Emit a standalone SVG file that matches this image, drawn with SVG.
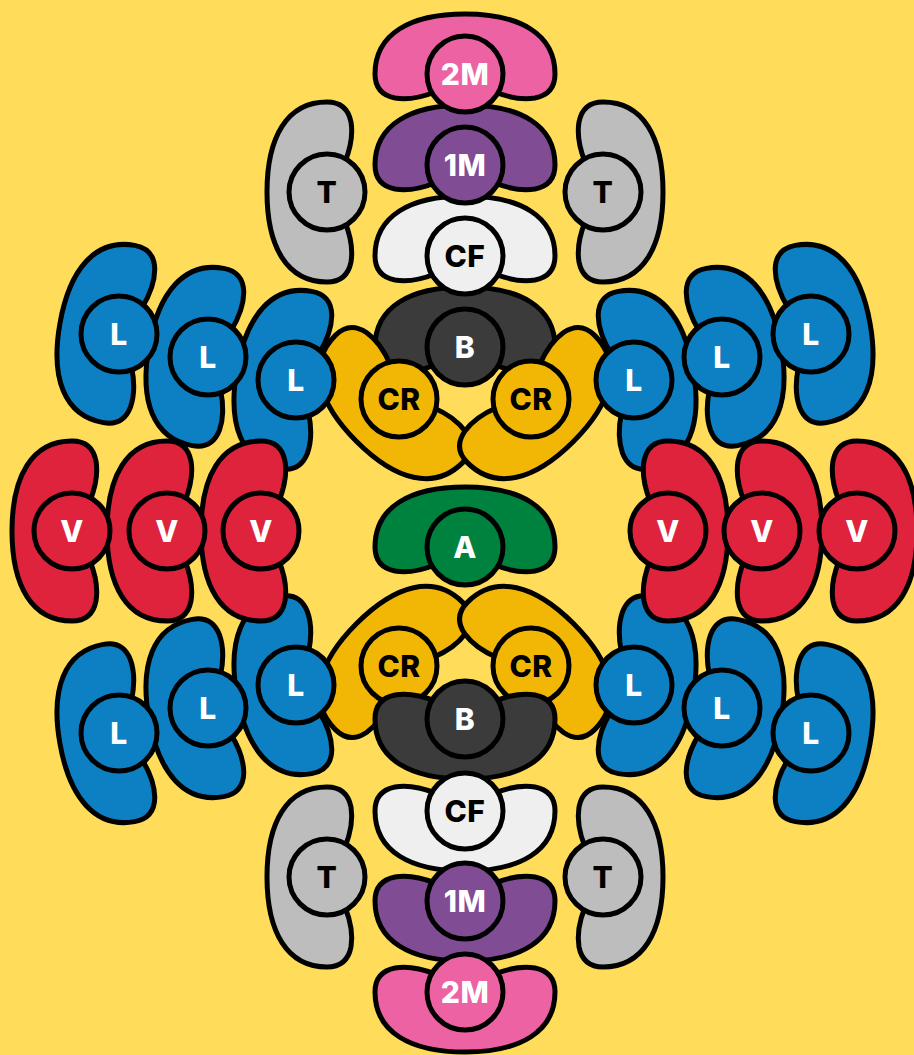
<svg xmlns="http://www.w3.org/2000/svg" xmlns:xlink="http://www.w3.org/1999/xlink" width="914" height="1055" viewBox="0 0 914 1055">
<style>
.bean,.dot{stroke:#000;stroke-width:5;stroke-linejoin:round}
.m2{fill:#EC62A2}.m1{fill:#804C93}.cf{fill:#EFEFEF}.t{fill:#BDBDBD}.b{fill:#3B3B3B}
.cr{fill:#F2B705}.l{fill:#0D80C3}.v{fill:#E0233D}.a{fill:#00823F}
text{font-family:Inter,"Liberation Sans",sans-serif;font-weight:800;font-size:30px;letter-spacing:0.5px;text-anchor:middle}
.w{fill:#fff}.k{fill:#000}
</style>
<defs>
<path id="bean" d="M -30,18 C -45,24 -58,26 -70,24 C -85,21 -90,12 -90,0 C -90,-40 -55,-60 0,-60 C 55,-60 90,-40 90,0 C 90,12 85,21 70,24 C 58,26 45,24 30,18 C 15,13 -15,13 -30,18 Z"/>
</defs>
<rect width="914" height="1055" fill="#FFDD5B"/>
<g id="nodes">
<g id="t-top-left"><use href="#bean" class="bean t" transform="translate(327,192) rotate(-90)"/><circle class="dot t" cx="327" cy="192" r="38"/><text class="k" x="327" y="203">T</text></g>
<g id="t-top-right"><use href="#bean" class="bean t" transform="translate(603,192) rotate(90)"/><circle class="dot t" cx="603" cy="192" r="38"/><text class="k" x="603" y="203">T</text></g>
<g id="b-top"><use href="#bean" class="bean b" transform="translate(465,347)"/><circle class="dot b" cx="465" cy="347" r="38"/><text class="w" x="465" y="358">B</text></g>
<g id="cr-top-left"><use href="#bean" class="bean cr" transform="translate(399,399) rotate(-135)"/><circle class="dot cr" cx="399" cy="399" r="38"/><text class="k" x="399" y="410">CR</text></g>
<g id="cr-top-right"><use href="#bean" class="bean cr" transform="translate(531,399) rotate(135)"/><circle class="dot cr" cx="531" cy="399" r="38"/><text class="k" x="531" y="410">CR</text></g>
<g id="l-top-left-1"><use href="#bean" class="bean l" transform="translate(296,380) rotate(-80)"/><circle class="dot l" cx="296" cy="380" r="38"/><text class="w" x="296" y="391">L</text></g>
<g id="l-top-right-1"><use href="#bean" class="bean l" transform="translate(634,380) rotate(80)"/><circle class="dot l" cx="634" cy="380" r="38"/><text class="w" x="634" y="391">L</text></g>
<g id="l-top-left-2"><use href="#bean" class="bean l" transform="translate(208,357) rotate(-80)"/><circle class="dot l" cx="208" cy="357" r="38"/><text class="w" x="208" y="368">L</text></g>
<g id="l-top-right-2"><use href="#bean" class="bean l" transform="translate(722,357) rotate(80)"/><circle class="dot l" cx="722" cy="357" r="38"/><text class="w" x="722" y="368">L</text></g>
<g id="l-top-left-3"><use href="#bean" class="bean l" transform="translate(119,334) rotate(-80)"/><circle class="dot l" cx="119" cy="334" r="38"/><text class="w" x="119" y="345">L</text></g>
<g id="l-top-right-3"><use href="#bean" class="bean l" transform="translate(811,334) rotate(80)"/><circle class="dot l" cx="811" cy="334" r="38"/><text class="w" x="811" y="345">L</text></g>
<g id="cr-bottom-left"><use href="#bean" class="bean cr" transform="translate(399,666) rotate(-45)"/><circle class="dot cr" cx="399" cy="666" r="38"/><text class="k" x="399" y="677">CR</text></g>
<g id="cr-bottom-right"><use href="#bean" class="bean cr" transform="translate(531,666) rotate(45)"/><circle class="dot cr" cx="531" cy="666" r="38"/><text class="k" x="531" y="677">CR</text></g>
<g id="b-bottom"><use href="#bean" class="bean b" transform="translate(465,719) rotate(180)"/><circle class="dot b" cx="465" cy="719" r="38"/><text class="w" x="465" y="730">B</text></g>
<g id="l-bottom-left-1"><use href="#bean" class="bean l" transform="translate(296,685) rotate(-100)"/><circle class="dot l" cx="296" cy="685" r="38"/><text class="w" x="296" y="696">L</text></g>
<g id="l-bottom-right-1"><use href="#bean" class="bean l" transform="translate(634,685) rotate(100)"/><circle class="dot l" cx="634" cy="685" r="38"/><text class="w" x="634" y="696">L</text></g>
<g id="l-bottom-left-2"><use href="#bean" class="bean l" transform="translate(208,708) rotate(-100)"/><circle class="dot l" cx="208" cy="708" r="38"/><text class="w" x="208" y="719">L</text></g>
<g id="l-bottom-right-2"><use href="#bean" class="bean l" transform="translate(722,708) rotate(100)"/><circle class="dot l" cx="722" cy="708" r="38"/><text class="w" x="722" y="719">L</text></g>
<g id="l-bottom-left-3"><use href="#bean" class="bean l" transform="translate(119,733) rotate(-100)"/><circle class="dot l" cx="119" cy="733" r="38"/><text class="w" x="119" y="744">L</text></g>
<g id="l-bottom-right-3"><use href="#bean" class="bean l" transform="translate(811,733) rotate(100)"/><circle class="dot l" cx="811" cy="733" r="38"/><text class="w" x="811" y="744">L</text></g>
<g id="v-left-1"><use href="#bean" class="bean v" transform="translate(261,531) rotate(-90)"/><circle class="dot v" cx="261" cy="531" r="38"/><text class="w" x="261" y="542">V</text></g>
<g id="v-right-1"><use href="#bean" class="bean v" transform="translate(668,531) rotate(90)"/><circle class="dot v" cx="668" cy="531" r="38"/><text class="w" x="668" y="542">V</text></g>
<g id="v-left-2"><use href="#bean" class="bean v" transform="translate(167,531) rotate(-90)"/><circle class="dot v" cx="167" cy="531" r="38"/><text class="w" x="167" y="542">V</text></g>
<g id="v-right-2"><use href="#bean" class="bean v" transform="translate(762,531) rotate(90)"/><circle class="dot v" cx="762" cy="531" r="38"/><text class="w" x="762" y="542">V</text></g>
<g id="v-left-3"><use href="#bean" class="bean v" transform="translate(72,531) rotate(-90)"/><circle class="dot v" cx="72" cy="531" r="38"/><text class="w" x="72" y="542">V</text></g>
<g id="v-right-3"><use href="#bean" class="bean v" transform="translate(857,531) rotate(90)"/><circle class="dot v" cx="857" cy="531" r="38"/><text class="w" x="857" y="542">V</text></g>
<g id="cf-top"><use href="#bean" class="bean cf" transform="translate(465,256)"/><circle class="dot cf" cx="465" cy="256" r="38"/><text class="k" x="465" y="267">CF</text></g>
<g id="m1-top"><use href="#bean" class="bean m1" transform="translate(465,165)"/><circle class="dot m1" cx="465" cy="165" r="38"/><text class="w" x="465" y="176">1M</text></g>
<g id="m2-top"><use href="#bean" class="bean m2" transform="translate(465,74)"/><circle class="dot m2" cx="465" cy="74" r="38"/><text class="w" x="465" y="85">2M</text></g>
<g id="cf-bottom"><use href="#bean" class="bean cf" transform="translate(465,811) rotate(180)"/><circle class="dot cf" cx="465" cy="811" r="38"/><text class="k" x="465" y="822">CF</text></g>
<g id="m1-bottom"><use href="#bean" class="bean m1" transform="translate(465,901) rotate(180)"/><circle class="dot m1" cx="465" cy="901" r="38"/><text class="w" x="465" y="912">1M</text></g>
<g id="m2-bottom"><use href="#bean" class="bean m2" transform="translate(465,992) rotate(180)"/><circle class="dot m2" cx="465" cy="992" r="38"/><text class="w" x="465" y="1003">2M</text></g>
<g id="t-bottom-left"><use href="#bean" class="bean t" transform="translate(327,877) rotate(-90)"/><circle class="dot t" cx="327" cy="877" r="38"/><text class="k" x="327" y="888">T</text></g>
<g id="t-bottom-right"><use href="#bean" class="bean t" transform="translate(603,877) rotate(90)"/><circle class="dot t" cx="603" cy="877" r="38"/><text class="k" x="603" y="888">T</text></g>
<g id="a"><use href="#bean" class="bean a" transform="translate(465,547)"/><circle class="dot a" cx="465" cy="547" r="38"/><text class="w" x="465" y="558">A</text></g>
</g>
</svg>
